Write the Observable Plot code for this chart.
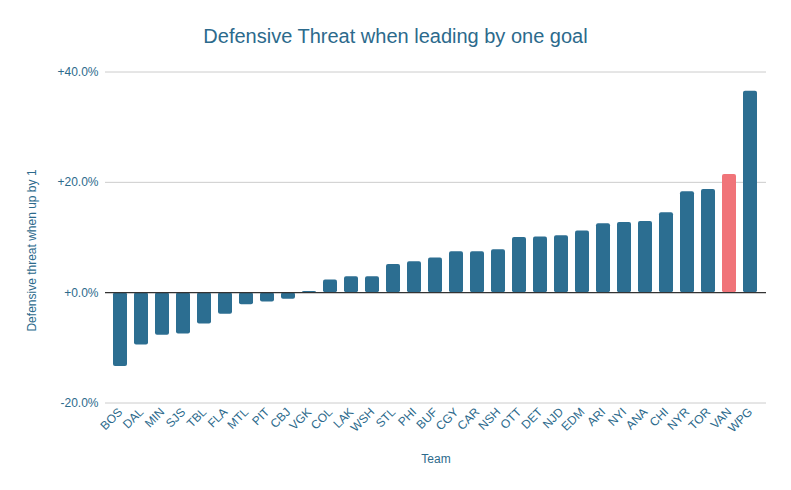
<!DOCTYPE html>
<html><head><meta charset="utf-8">
<script src="https://cdn.jsdelivr.net/npm/d3@7"></script>
<script src="https://cdn.jsdelivr.net/npm/@observablehq/plot@0.6"></script>
<style>
body{margin:0;background:#fff;font-family:"Liberation Sans",Arial,sans-serif;}
#head{height:50px;position:relative;width:791px;}
#title{position:absolute;top:26px;left:0;width:791px;text-align:center;font-size:20px;line-height:20px;color:#2c6a8c;}
#chart svg text{font-size:12px;}
</style>
</head><body>
<div id="head"><div id="title">Defensive Threat when leading by one goal</div></div>
<div id="chart"></div>
<script>
const teams = ["BOS","DAL","MIN","SJS","TBL","FLA","MTL","PIT","CBJ","VGK","COL","LAK","WSH","STL","PHI","BUF","CGY","CAR","NSH","OTT","DET","NJD","EDM","ARI","NYI","ANA","CHI","NYR","TOR","VAN","WPG"];
const values = [-13.4,-9.5,-7.7,-7.5,-5.7,-3.9,-2.2,-1.7,-1.2,0.2,2.3,2.9,2.9,5.1,5.6,6.3,7.4,7.4,7.8,10.0,10.1,10.3,11.2,12.5,12.7,12.9,14.5,18.3,18.7,21.4,36.5];
const highlightTeam = "VAN";
const yTicks = [-20, 0, 20, 40];
const xTitle = "Team";
const yTitle = "Defensive threat when up by 1";

const data = teams.map((t, i) => ({team: t, value: values[i], group: t === highlightTeam ? "highlight" : "base"}));
const textColor = "#2c6a8c";
const fmt = d => (d >= 0 ? "+" : "") + d.toFixed(1) + "%";

const chart = Plot.plot({
  width: 791, height: 440,
  marginTop: 21.5, marginBottom: 87.5, marginLeft: 105, marginRight: 25,
  style: {fontFamily: "Liberation Sans, Arial, sans-serif", fontSize: "12px", color: textColor, background: "#fff", overflow: "visible"},
  x: {domain: teams, padding: 0.33, axis: null},
  y: {domain: [-20, 40], axis: null},
  color: {domain: ["base", "highlight"], range: ["#2c6e91", "#f07479"]},
  marks: [
    Plot.ruleY(yTicks.filter(d => d !== 0), {stroke: "#cccccc", strokeWidth: 1}),
    Plot.barY(data, {x: "team", y: "value", fill: "group", rx: 2}),
    Plot.ruleY([0], {stroke: "#333333", strokeWidth: 1.3}),
    Plot.axisY({ticks: yTicks, tickSize: 0, tickPadding: 7, tickFormat: fmt, label: null, fill: textColor, fontSize: 12}),
    Plot.axisX({tickSize: 0, tickRotate: -45, tickPadding: 7, label: null, fill: textColor, fontSize: 12}),
    Plot.text([xTitle], {frameAnchor: "bottom", dy: 56.5, lineAnchor: "middle", fill: textColor, fontSize: 12}),
    Plot.text([yTitle], {frameAnchor: "left", textAnchor: "middle", lineAnchor: "middle", dx: -73, dy: 13, rotate: -90, fill: textColor, fontSize: 12})
  ]
});
document.getElementById("chart").appendChild(chart);
</script>
</body></html>
